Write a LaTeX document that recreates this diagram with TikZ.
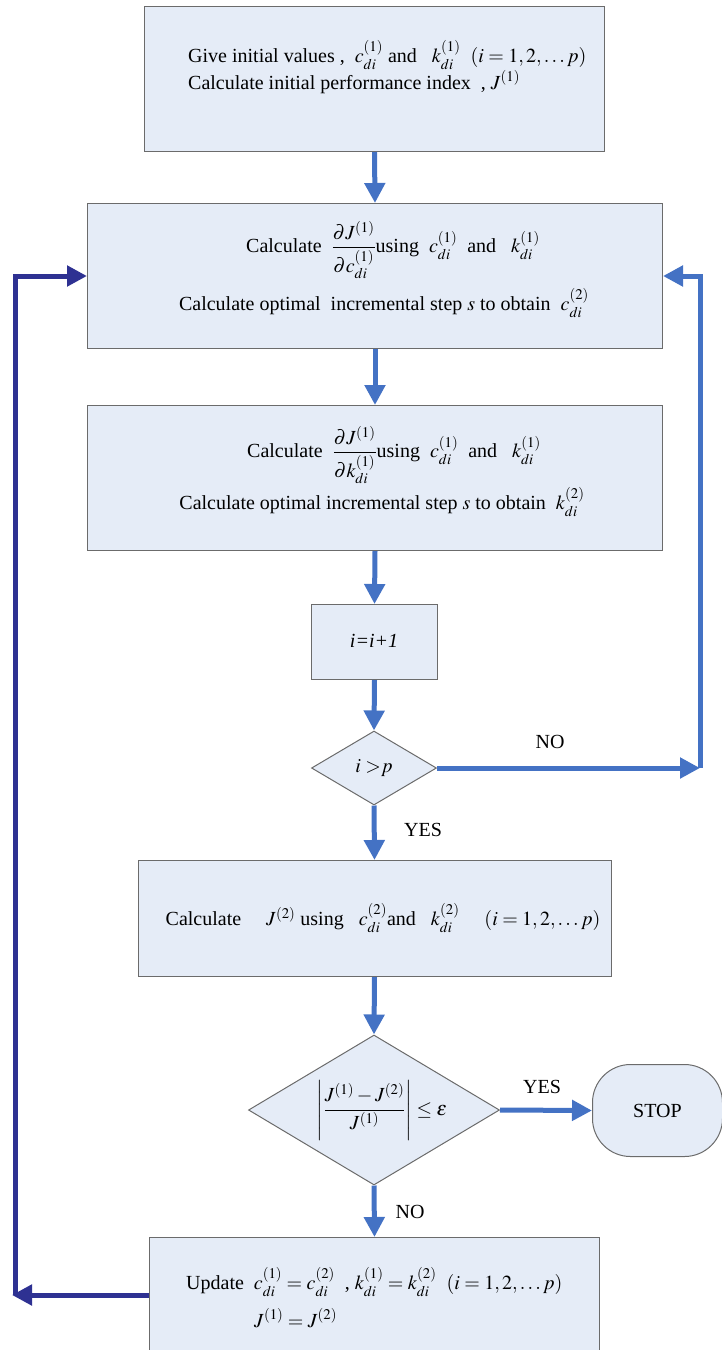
\documentclass[tikz,border=0pt]{standalone}
\usepackage{amsmath}
\usepackage{mathptmx}
\usepackage{fontspec}
\setmainfont{Liberation Serif}
\usetikzlibrary{arrows.meta,shapes.geometric}
\definecolor{boxfill}{HTML}{E5ECF7}
\definecolor{boxline}{HTML}{6B6B6B}
\definecolor{arrblue}{HTML}{4472C4}
\definecolor{arrdark}{HTML}{2E3192}
\begin{document}
\begin{tikzpicture}[x=1pt,y=-1pt,font=\fontsize{20}{24}\selectfont,
  box/.style={draw=boxline,fill=boxfill,line width=1pt,inner sep=0pt},
  dia/.style={box,diamond},
  flow/.style={draw=arrblue,line width=5pt,-{Triangle[length=20pt,width=20pt]}},
  back/.style={draw=arrdark,line width=5pt,-{Triangle[length=20pt,width=20pt]}},
  txt/.style={inner sep=0pt}]
\useasboundingbox (0,0) rectangle (722,1350);
% boxes
\node[box,anchor=north west,minimum width=460pt,minimum height=145pt] (b1) at (144,6) {};
\node[box,anchor=north west,minimum width=575pt,minimum height=145pt] (b2) at (87,203) {};
\node[box,anchor=north west,minimum width=575pt,minimum height=145pt] (b3) at (87,405) {};
\node[box,anchor=north west,minimum width=126pt,minimum height=75pt] (b4) at (311,604) {};
\node[dia,minimum width=125pt,minimum height=74pt] (d1) at (374,768) {};
\node[box,anchor=north west,minimum width=473pt,minimum height=116pt] (b5) at (137.5,860) {};
\node[dia,minimum width=251pt,minimum height=150pt] (d2) at (374,1110) {};
\node[box,anchor=north west,rounded corners=38pt,minimum width=130pt,minimum height=92pt] (stop) at (592,1064) {STOP};
\node[box,anchor=north west,minimum width=450pt,minimum height=125pt] (b6) at (149,1237) {};
% texts
\node[txt,anchor=west] (t1a) at (188,55) {Give initial values ,\ \ $c_{di}^{(1)}$ and \ \ $k_{di}^{(1)}$\ \ $(i=1,2,\ldots p)$};
\node[txt,anchor=west] (t1b) at (188,82) {Calculate initial performance index \ ,\ $J^{(1)}$};
\node[txt] (t2a) at (393,250) {Calculate \ $\dfrac{\partial J^{(1)}}{\partial c_{di}^{(1)}}$using\ \ $c_{di}^{(1)}$ \ and \ \ $k_{di}^{(1)}$};
\node[txt] (t2b) at (384,303) {Calculate optimal \ incremental step $s$ to obtain \ $c_{di}^{(2)}$};
\node[txt] (t3a) at (394,455) {Calculate \ $\dfrac{\partial J^{(1)}}{\partial k_{di}^{(1)}}$using\ \ $c_{di}^{(1)}$ \ and \ \ $k_{di}^{(1)}$};
\node[txt] (t3b) at (382,502) {Calculate optimal incremental step $s$ to obtain \ $k_{di}^{(2)}$};
\node[txt] (t4) at (374,641) {\itshape i=i+1};
\node[txt] (t5) at (374,768) {$i\;{>}p$};
\node[txt] (t6) at (383,918) {Calculate \quad $J^{(2)}$ using \ \ $c_{di}^{(2)}$and \ \ $k_{di}^{(2)}$ \quad $(i=1,2,\ldots p)$};
\node[txt] (t7) at (382,1110) {$\left|\dfrac{J^{(1)}-J^{(2)}}{J^{(1)}}\right|\le\varepsilon$};
\node[txt,anchor=west] (t8a) at (186,1282) {Update \ $c_{di}^{(1)}=c_{di}^{(2)}$ \ , $k_{di}^{(1)}=k_{di}^{(2)}$ \ $(i=1,2,\ldots p)$};
\node[txt,anchor=west] (t8b) at (254,1318) {$J^{(1)}=J^{(2)}$};
% labels
\node[txt] (no1) at (550,742) {NO};
\node[txt] (yes1) at (423,830) {YES};
\node[txt] (yes2) at (542,1087) {YES};
\node[txt] (no2) at (410,1212) {NO};
% connectors
\draw[flow] (b1.south) -- (b2.north);
\draw[flow] (b2.south) -- (b3.north);
\draw[flow] (b3.south) -- (b4.north);
\draw[flow] (b4.south) -- (d1.north);
\draw[flow] (d1.south) -- (b5.north);
\draw[flow] (b5.south) -- (d2.north);
\draw[flow] (d2.south) -- (b6.north);
\draw[flow] (d2.east) -- (stop.west);
\coordinate (rc) at (700,768);
\draw[flow] (d1.east) -- (rc);
\draw[flow] (rc) |- (b2.east);
\coordinate (lc) at (15,1295);
\coordinate (lt) at (12,1295);
\draw[back] (b6.west |- lc) -- (lt);
\draw[back] (lc) |- (b2.west);
\end{tikzpicture}
\end{document}
